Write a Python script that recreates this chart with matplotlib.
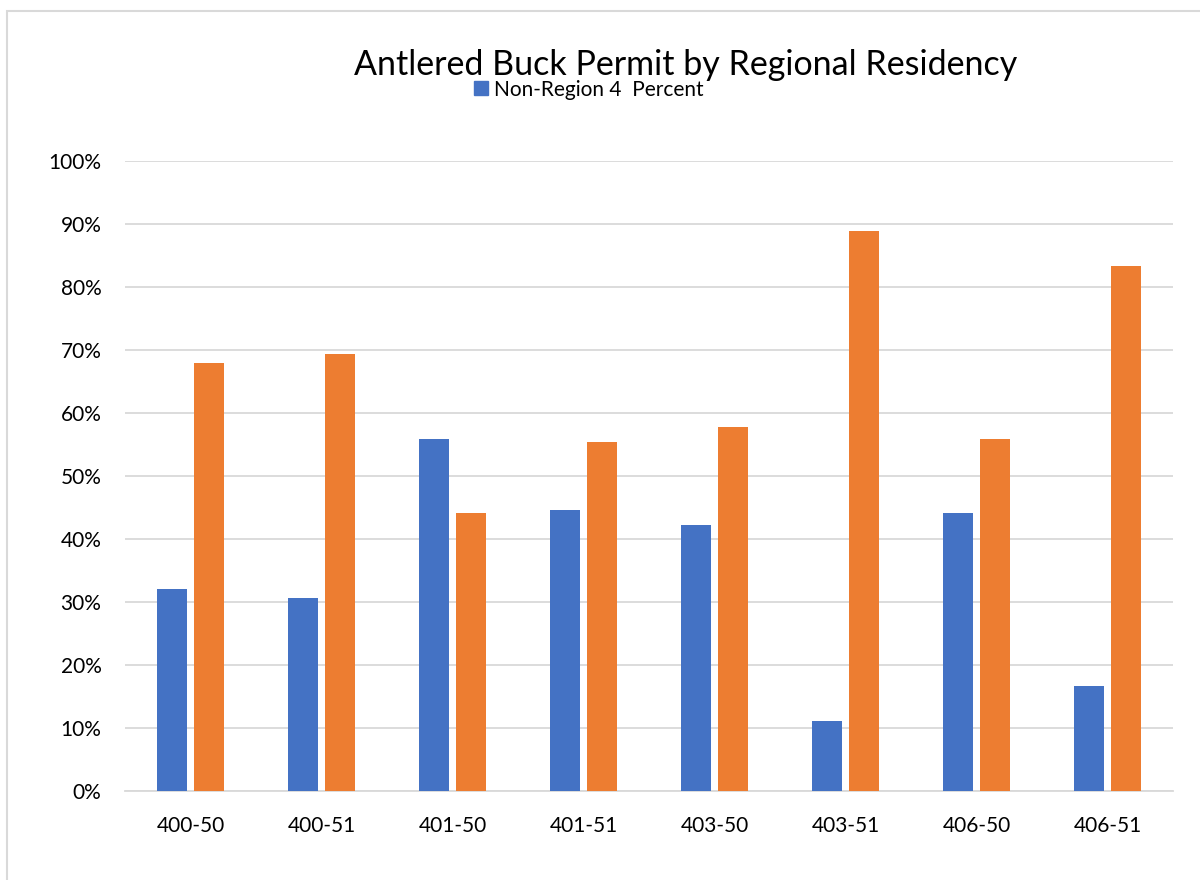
import numpy as np
import matplotlib.pyplot as plt
from matplotlib.patches import Rectangle, Patch
from matplotlib.ticker import PercentFormatter

units = ['400-50', '400-51', '401-50', '401-51', '403-50', '403-51', '406-50', '406-51']
non_region4 = [0.320, 0.306, 0.558, 0.446, 0.422, 0.111, 0.441, 0.167]
region4 = [0.680, 0.694, 0.442, 0.554, 0.578, 0.889, 0.559, 0.833]

plt.rcParams['font.family'] = ['Lato', 'DejaVu Sans']

fig = plt.figure(figsize=(12, 8.8), dpi=100)
ax = fig.add_axes([0.1042, 0.1011, 0.8733, 0.7159])

x = np.arange(len(units))
w = 0.225
ax.bar(x - 0.142, non_region4, width=w, color='#4472C4', zorder=3)
ax.bar(x + 0.142, region4, width=w, color='#ED7D31', zorder=3)

ax.set_ylim(0, 1)
ax.set_xlim(-0.5, len(units) - 0.5)
ax.set_yticks(np.arange(0, 1.01, 0.1))
ax.yaxis.set_major_formatter(PercentFormatter(1.0, decimals=0))
ax.set_xticks(x)
ax.set_xticklabels(units)
ax.tick_params(axis='both', length=0, labelsize=15, colors='#000000')
ax.tick_params(axis='y', pad=17)
ax.tick_params(axis='x', pad=18)
ax.grid(axis='y', color='#d9d9d9', linewidth=1.3, zorder=0)
for s in ['top', 'right', 'left']:
    ax.spines[s].set_visible(False)
ax.spines['bottom'].set_color('#d9d9d9')
ax.spines['bottom'].set_linewidth(1.3)

fig.text(0.571, 0.926, 'Antlered Buck Permit by Regional Residency', ha='center', va='center', fontsize=24.5)
fig.legend(handles=[Patch(color='#4472C4', label='Non-Region 4  Percent')], loc='center',
           bbox_to_anchor=(0.491, 0.898), frameon=False, fontsize=15,
           handlelength=0.65, handleheight=0.65, handletextpad=0.3)

fig.patches.append(Rectangle((7 / 1200, -0.05), 1.1, 1 - 11 / 880 + 0.05, transform=fig.transFigure,
                             fill=False, edgecolor='#d9d9d9', linewidth=1.5))

fig.savefig('out.png', dpi=100)
